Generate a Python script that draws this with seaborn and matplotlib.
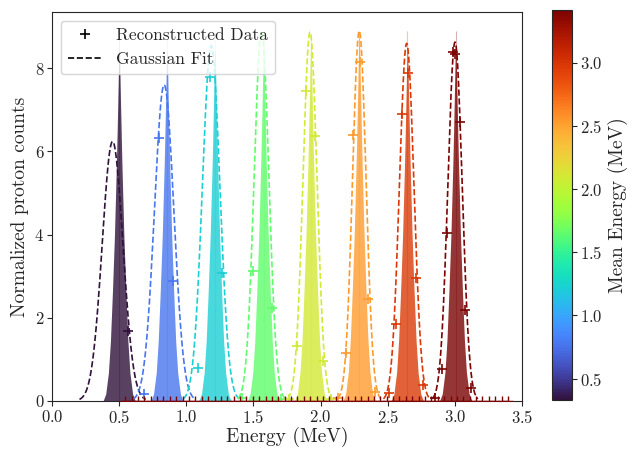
import numpy as np
import seaborn as sns
import matplotlib
matplotlib.use("Agg")
import matplotlib.pyplot as plt
from matplotlib.lines import Line2D
from matplotlib.colors import Normalize
from matplotlib.cm import ScalarMappable

# histogram peaks (true spectra), one per beam energy
HIST_CENTER = [0.500, 0.856, 1.213, 1.575, 1.927, 2.287, 2.646, 3.006]
HIST_HEIGHT = [8.47, 8.47, 8.47, 8.50, 8.67, 8.87, 8.55, 8.60]
HIST_TOP = [8.90, 8.90, 8.90, 8.90, 8.85, 8.90, 8.90, 8.90]
# shared peak shape: offset (MeV) -> fraction of height
PROFILE_OFF = [-0.12, -0.10, -0.08, -0.065, -0.05, -0.035, -0.02, -0.01, -0.003,
               0.0, 0.003, 0.01, 0.02, 0.035, 0.05, 0.065, 0.08, 0.10, 0.12]
PROFILE_REL = [0.0, 0.02, 0.08, 0.17, 0.31, 0.47, 0.68, 0.85, 0.98,
               1.0, 0.98, 0.85, 0.68, 0.47, 0.31, 0.17, 0.08, 0.02, 0.0]

# gaussian fit parameters
FIT_MU = [0.451, 0.835, 1.185, 1.560, 1.921, 2.288, 2.641, 3.001]
FIT_SIGMA = [0.077, 0.072, 0.065, 0.055, 0.052, 0.050, 0.054, 0.053]
FIT_AMP = [6.24, 7.60, 8.55, 8.90, 8.87, 8.90, 8.60, 8.63]

# reconstructed data points (visible ones)
RECO_X = [
    [0.563],
    [0.687, 0.799, 0.903],
    [1.089, 1.178, 1.265],
    [1.414, 1.493, 1.637, 1.704],
    [1.766, 1.828, 1.890, 1.957, 2.019, 2.080],
    [2.133, 2.188, 2.242, 2.292, 2.353, 2.406],
    [2.510, 2.558, 2.609, 2.654, 2.708, 2.763],
    [2.850, 2.902, 2.944, 2.988, 2.998, 3.036, 3.075, 3.118],
]
RECO_Y = [
    [1.68],
    [0.16, 6.32, 2.88],
    [0.80, 7.79, 3.08],
    [0.08, 3.12, 2.24, 0.05],
    [0.05, 1.32, 7.46, 6.36, 0.96, 0.05],
    [0.08, 1.16, 6.40, 8.15, 2.44, 0.22],
    [0.20, 1.86, 6.89, 7.89, 2.96, 0.38],
    [0.08, 0.76, 4.04, 8.40, 8.35, 6.71, 2.18, 0.32],
]
# empty reconstruction bins (zero counts) along the axis
ZERO_START, ZERO_STOP, ZERO_STEP = 0.545, 3.41, 0.0475

CBAR_MIN, CBAR_MAX = 0.33, 3.42

sns.set_style("ticks")
plt.rcParams.update({
    "font.family": "serif",
    "font.serif": ["cmr10"],
    "mathtext.fontset": "cm",
    "axes.formatter.use_mathtext": True,
    "axes.unicode_minus": False,
})

fig = plt.figure(figsize=(6.32, 4.49), dpi=100)
ax = fig.add_axes([0.0823, 0.107, 0.7437, 0.866])
cax = fig.add_axes([0.8734, 0.109, 0.0316, 0.869])

cmap = plt.get_cmap("turbo")
colors = [cmap(i / (len(HIST_CENTER) - 1)) for i in range(len(HIST_CENTER))]

for i, c in enumerate(colors):
    xs = HIST_CENTER[i] + np.array(PROFILE_OFF)
    ys = HIST_HEIGHT[i] * np.array(PROFILE_REL)
    ax.fill_between(xs, ys, color=c, alpha=0.8, lw=0)
    ax.vlines(HIST_CENTER[i], 0, HIST_TOP[i], color=c, alpha=0.3, lw=0.8)

    mu, sg, amp = FIT_MU[i], FIT_SIGMA[i], FIT_AMP[i]
    xf = np.linspace(mu - 3.2 * sg, mu + 3.2 * sg, 200)
    yf = amp * np.exp(-0.5 * ((xf - mu) / sg) ** 2)
    sns.lineplot(x=xf, y=yf, color=c, linestyle="--", linewidth=1.2, ax=ax)

    sns.scatterplot(x=RECO_X[i], y=RECO_Y[i], marker="+", color=c, s=55,
                    linewidth=1.2, ax=ax, zorder=3)

zx = np.arange(ZERO_START, ZERO_STOP, ZERO_STEP)
sns.scatterplot(x=zx, y=np.zeros_like(zx), marker="+", color=colors[-1], s=45,
                linewidth=1.0, ax=ax, zorder=3, clip_on=True)

ax.set_xlim(0, 3.5)
ax.set_ylim(0, 9.35)
ax.set_xticks(np.arange(0, 3.51, 0.5))
ax.set_yticks([0, 2, 4, 6, 8])
ax.tick_params(labelsize=12, length=3.5, pad=2)
ax.set_xlabel("Energy (MeV)", fontsize=14, labelpad=1)
ax.set_ylabel("Normalized proton counts", fontsize=14, labelpad=4)

handles = [Line2D([], [], marker="+", ls="None", color="k", ms=7.4, mew=1.2),
           Line2D([], [], ls="--", color="k", lw=1.2)]
ax.legend(handles, ["Reconstructed Data", "Gaussian Fit"], loc="upper left",
          fontsize=12.5, frameon=True)

sm = ScalarMappable(norm=Normalize(CBAR_MIN, CBAR_MAX), cmap=cmap)
cb = fig.colorbar(sm, cax=cax)
cb.set_ticks([0.5, 1.0, 1.5, 2.0, 2.5, 3.0])
cb.ax.tick_params(labelsize=12, length=3.5, pad=2)
cb.set_label("Mean Energy (MeV)", fontsize=14)

fig.savefig("out.png", dpi=100)
